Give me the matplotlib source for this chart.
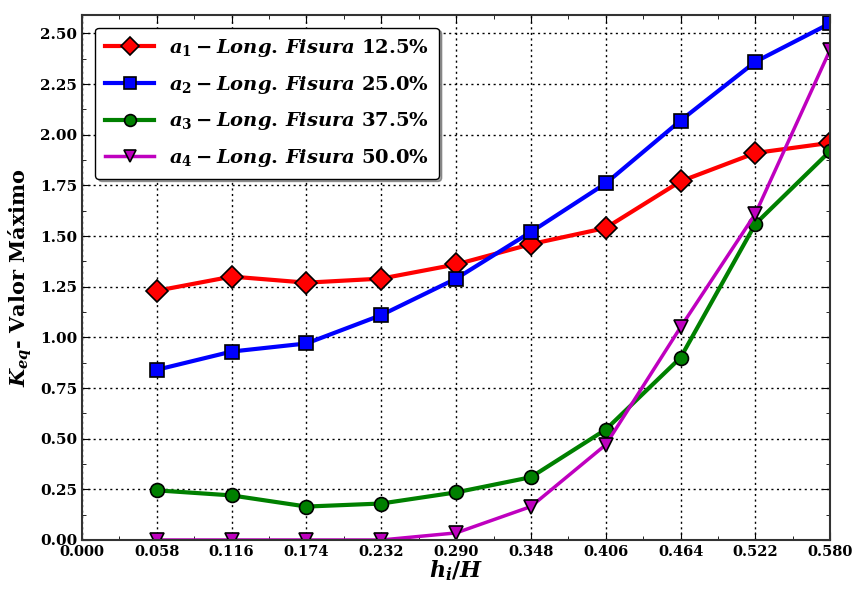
import numpy as np
import matplotlib
matplotlib.use("Agg")
import matplotlib.pyplot as plt
from matplotlib.ticker import MultipleLocator, AutoMinorLocator

plt.rcParams['font.family'] = 'DejaVu Serif'
plt.rcParams['font.weight'] = 'bold'
plt.rcParams['mathtext.fontset'] = 'custom'
plt.rcParams['mathtext.it'] = 'DejaVu Serif:italic:bold'
plt.rcParams['mathtext.rm'] = 'DejaVu Serif:bold'
plt.rcParams['mathtext.bf'] = 'DejaVu Serif:bold'

x = [0.058, 0.116, 0.174, 0.232, 0.290, 0.348, 0.406, 0.464, 0.522, 0.580]
a1 = [1.23, 1.30, 1.27, 1.29, 1.36, 1.46, 1.54, 1.77, 1.91, 1.96]
a2 = [0.84, 0.93, 0.97, 1.11, 1.29, 1.52, 1.76, 2.07, 2.36, 2.55]
a3 = [0.245, 0.22, 0.165, 0.18, 0.235, 0.31, 0.545, 0.90, 1.56, 1.92]
a4 = [0.0, 0.0, 0.0, 0.0, 0.035, 0.165, 0.47, 1.05, 1.61, 2.42]
labels = [r'$a_1 - Long.\,Fisura$ 12.5%', r'$a_2 - Long.\,Fisura$ 25.0%',
          r'$a_3 - Long.\,Fisura$ 37.5%', r'$a_4 - Long.\,Fisura$ 50.0%']
xticks = np.arange(0, 11) * 0.058

fig = plt.figure(figsize=(8.58, 5.91), dpi=100)
ax = fig.add_axes([0.0956, 0.0863, 0.872, 0.888])

ax.plot(x, a1, '-D', color='red', lw=3, ms=11, mec='black', mew=1.2, label=labels[0])
ax.plot(x, a2, '-s', color='blue', lw=3, ms=10, mec='black', mew=1.2, label=labels[1])
ax.plot(x, a3, '-o', color='green', lw=3, ms=10, mec='black', mew=1.2, label=labels[2])
ax.plot(x, a4, '-v', color='m', lw=2.5, ms=10, mec='black', mew=1.2, label=labels[3])

ax.set_xlim(0, 0.58)
ax.set_ylim(0, 2.59)
ax.set_xticks(xticks)
ax.set_xticklabels(['%.3f' % v for v in xticks])
ax.yaxis.set_major_locator(MultipleLocator(0.25))
ax.xaxis.set_minor_locator(AutoMinorLocator(2))
ax.yaxis.set_minor_locator(AutoMinorLocator(2))
ax.yaxis.set_major_formatter(matplotlib.ticker.FormatStrFormatter('%.2f'))
ax.tick_params(which='both', direction='in', top=True, right=True, labelsize=11)
ax.tick_params(axis='x', labelsize=10.5)
ax.tick_params(which='major', length=6)
ax.tick_params(which='minor', length=3)
for s in ax.spines.values():
    s.set_color('#333333')
    s.set_linewidth(1.5)
ax.grid(True, which='major', color='black', linestyle=(0, (1.5, 2.5)), linewidth=1)

ax.set_xlabel(r'$h_i/H$', fontsize=16, labelpad=0)
ax.set_ylabel(r'$K_{eq}$- Valor Máximo', fontsize=15, fontweight='bold')

leg = ax.legend(loc='upper left', fontsize=14, fancybox=True, shadow=True,
                handlelength=2.5, borderpad=0.5, labelspacing=0.75, markerscale=0.85,
                framealpha=1, bbox_to_anchor=(0.005, 0.995))
leg.get_frame().set_edgecolor('black')

fig.savefig('out.png', dpi=100)
